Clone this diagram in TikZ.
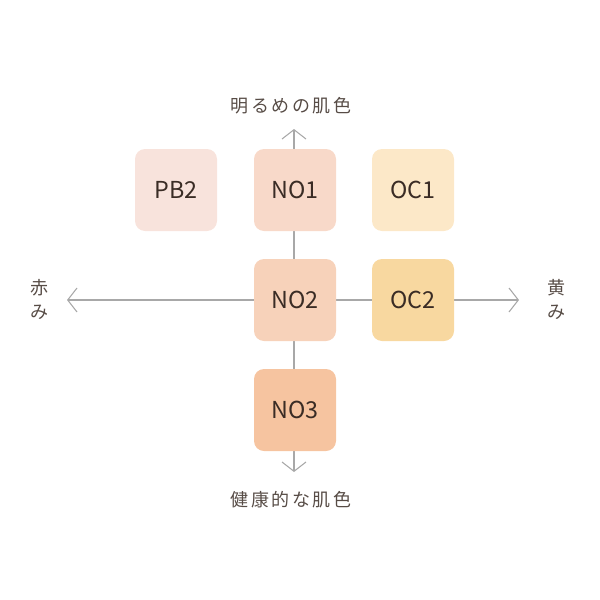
\documentclass[tikz,border=0pt]{standalone}
\usepackage{fontspec}
\setmainfont{Noto Sans CJK JP}
\usetikzlibrary{arrows.meta}
\definecolor{cPB}{HTML}{F8E3DC}
\definecolor{cNOa}{HTML}{F8D9C9}
\definecolor{cOCa}{HTML}{FCE8C8}
\definecolor{cNOb}{HTML}{F7D2BA}
\definecolor{cOCb}{HTML}{F8D8A0}
\definecolor{cNOc}{HTML}{F6C4A0}
\definecolor{txt}{HTML}{3A2C25}
\definecolor{axis}{HTML}{A8A8A8}
\begin{document}
\begin{tikzpicture}[x=0.75pt,y=-0.75pt,
  chip/.style={rounded corners=7.5pt,minimum width=61.5pt,minimum height=61.5pt,inner sep=0pt,text=txt,font=\fontsize{17.5}{17.5}\selectfont},
  axisline/.style={draw=axis,line width=0.8pt,-{Straight Barb[length=7pt,width=18pt,line width=0.8pt]}},
  lab/.style={text=txt!85,font=\fontsize{13.5}{16}\selectfont\addfontfeature{LetterSpace=14},inner sep=0pt}]
\useasboundingbox (0,0) rectangle (600,600);
\coordinate (c) at (294,300);
\coordinate (top) at (294,129);
\coordinate (bot) at (294,472);
\coordinate (lft) at (67,300);
\coordinate (rgt) at (519,300);
\draw[axisline] (c) -- (top);
\draw[axisline] (c) -- (bot);
\draw[axisline] (c) -- (lft);
\draw[axisline] (c) -- (rgt);
\node[chip,fill=cPB] (pb2) at (176,190) {PB2};
\node[chip,fill=cNOa] (no1) at (295,190) {NO1};
\node[chip,fill=cOCa] (oc1) at (413,190) {OC1};
\node[chip,fill=cNOb] (no2) at (295,300) {NO2};
\node[chip,fill=cOCb] (oc2) at (413,300) {OC2};
\node[chip,fill=cNOc] (no3) at (295,410) {NO3};
\node[lab] (tl) at (291,106) {明るめの肌色};
\node[lab] (bl) at (291,500) {健康的な肌色};
\node[lab,align=center,font=\fontsize{13.5}{18}\selectfont] (ll) at (39,299) {赤\\み};
\node[lab,align=center,font=\fontsize{13.5}{18}\selectfont] (rl) at (556,299) {黄\\み};
\end{tikzpicture}
\end{document}
